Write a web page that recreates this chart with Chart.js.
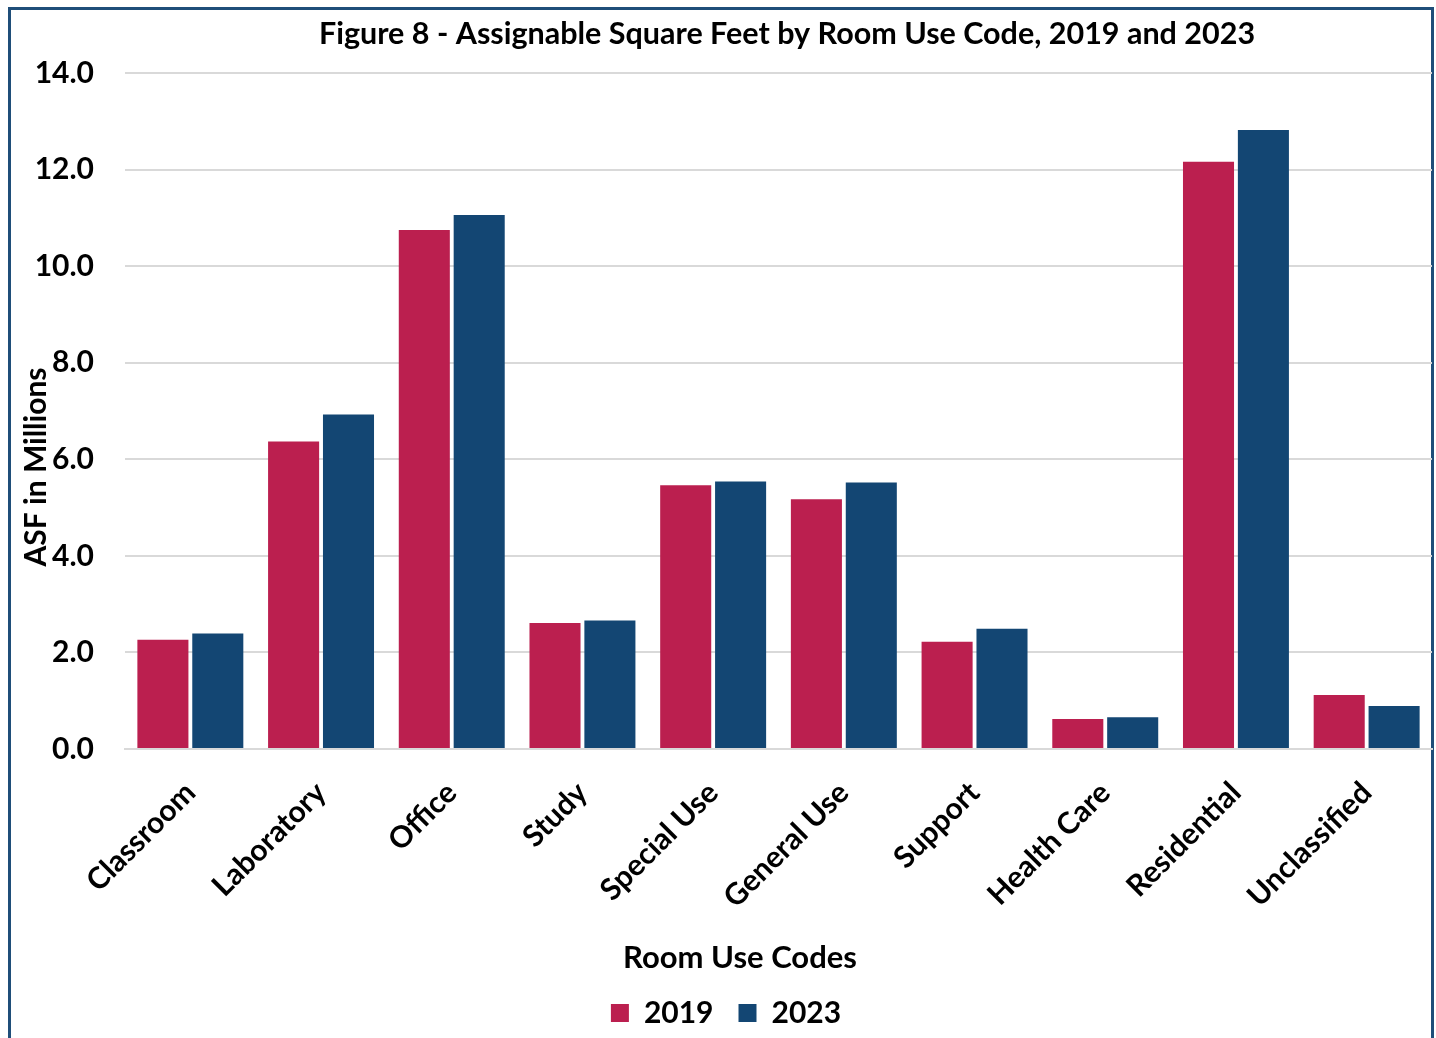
<!DOCTYPE html>
<html>
<head>
<meta charset="utf-8">
<script src="https://cdn.jsdelivr.net/npm/chart.js@4.4.1/dist/chart.umd.min.js"></script>
<style>
  html, body { margin: 0; padding: 0; background: #fff; }
  #wrap { position: absolute; left: 0; top: 0; width: 1436px; height: 1038px; }
</style>
</head>
<body>
<div id="wrap"><canvas id="chart"></canvas></div>
<script>
const categories = ['Classroom', 'Laboratory', 'Office', 'Study', 'Special Use', 'General Use', 'Support', 'Health Care', 'Residential', 'Unclassified'];
const values2019 = [2.26, 6.37, 10.75, 2.61, 5.46, 5.17, 2.22, 0.62, 12.16, 1.12];
const values2023 = [2.39, 6.93, 11.06, 2.66, 5.54, 5.52, 2.49, 0.66, 12.82, 0.89];
const yTicks = [0, 2, 4, 6, 8, 10, 12, 14];

const FONT = 'Lato, "Open Sans", sans-serif';

// frame, title and axis titles
const decorations = {
  id: 'decorations',
  beforeDraw(chart) {
    const ctx = chart.ctx;
    ctx.save();
    ctx.strokeStyle = '#1f4e79';
    ctx.lineWidth = 3;
    ctx.beginPath();
    ctx.moveTo(9.5, 1040);
    ctx.lineTo(9.5, 8.5);
    ctx.lineTo(1432.5, 8.5);
    ctx.lineTo(1432.5, 1040);
    ctx.stroke();
    ctx.restore();
  },
  afterDraw(chart) {
    const ctx = chart.ctx;
    ctx.save();
    ctx.fillStyle = '#000';
    ctx.textAlign = 'center';
    ctx.textBaseline = 'middle';
    ctx.font = 'bold 30.5px ' + FONT;
    ctx.fillText('Figure 8 - Assignable Square Feet by Room Use Code, 2019 and 2023', 787, 34);
    ctx.font = 'bold 31px ' + FONT;
    ctx.fillText('Room Use Codes', 740, 958);
    ctx.font = 'bold 30px ' + FONT;
    ctx.translate(36, 467);
    ctx.rotate(-Math.PI / 2);
    ctx.fillText('ASF in Millions', 0, 0);
    ctx.restore();
  }
};

new Chart(document.getElementById('chart'), {
  type: 'bar',
  data: {
    labels: categories,
    datasets: [
      { label: '2019', data: values2019, backgroundColor: '#bb1f4f' },
      { label: '2023', data: values2023, backgroundColor: '#134673' }
    ]
  },
  options: {
    responsive: true,
    maintainAspectRatio: false,
    animation: false,
    layout: { padding: { left: 20, right: 4, top: 73, bottom: 0 } },
    datasets: { bar: { categoryPercentage: 0.84, barPercentage: 0.93 } },
    plugins: {
      title: { display: false },
      tooltip: { enabled: false },
      legend: {
        position: 'bottom',
        labels: {
          boxWidth: 18,
          boxHeight: 18,
          padding: 25,
          color: '#000',
          font: { family: FONT, size: 30, weight: 'bold' }
        }
      }
    },
    scales: {
      x: {
        grid: { display: false },
        border: { color: '#d9d9d9', width: 2 },
        ticks: {
          color: '#000',
          minRotation: 45,
          maxRotation: 45,
          padding: 18,
          font: { family: FONT, size: 30, weight: 'bold' }
        },
        afterFit(scale) { scale.height = 224; }
      },
      y: {
        min: 0,
        max: 14,
        afterBuildTicks(scale) { scale.ticks = yTicks.map(v => ({ value: v })); },
        grid: { color: '#d9d9d9', lineWidth: 2, drawTicks: false },
        border: { display: false },
        ticks: {
          color: '#000',
          padding: 31,
          font: { family: FONT, size: 30, weight: 'bold' },
          callback: v => Number(v).toFixed(1)
        },
        afterFit(scale) { scale.width = 105; }
      }
    }
  },
  plugins: [decorations]
});
</script>
</body>
</html>
